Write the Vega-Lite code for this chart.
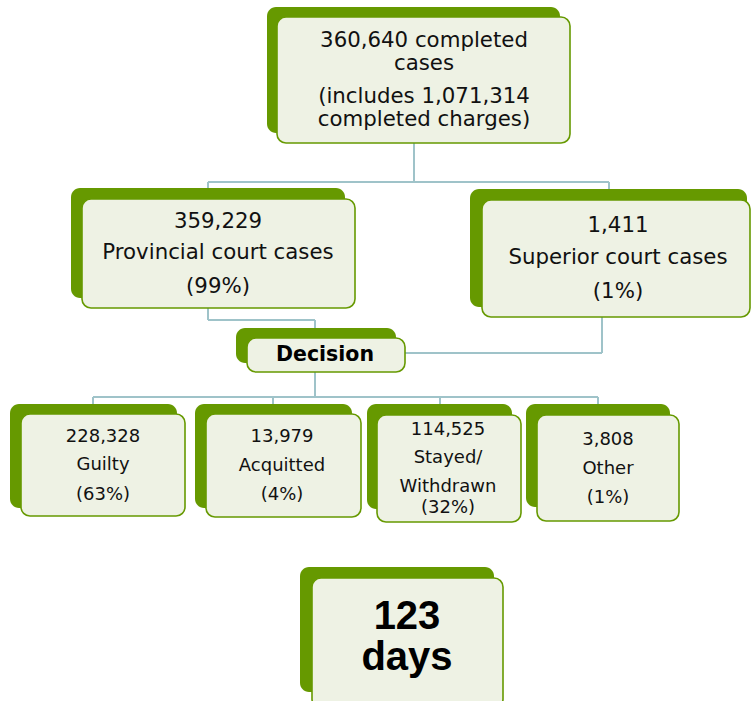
{
  "$schema": "https://vega.github.io/schema/vega-lite/v6.json",
  "width": 751,
  "height": 701,
  "padding": 0,
  "autosize": {"type": "fit", "contains": "padding"},
  "background": "white",
  "config": {"view": {"stroke": null}},
  "datasets": {
    "boxes": [
      {"box": "top", "layer": "back", "x": 267, "y": 7, "x2": 560, "y2": 133},
      {"box": "prov", "layer": "back", "x": 71, "y": 188, "x2": 345, "y2": 298},
      {"box": "sup", "layer": "back", "x": 470, "y": 189, "x2": 747, "y2": 307},
      {"box": "dec", "layer": "back", "x": 236, "y": 328, "x2": 396, "y2": 363},
      {"box": "guilty", "layer": "back", "x": 10, "y": 404, "x2": 177, "y2": 508},
      {"box": "acq", "layer": "back", "x": 195, "y": 404, "x2": 352, "y2": 508},
      {"box": "stay", "layer": "back", "x": 367, "y": 404, "x2": 512, "y2": 509},
      {"box": "other", "layer": "back", "x": 526, "y": 404, "x2": 670, "y2": 507},
      {"box": "days", "layer": "back", "x": 300, "y": 567, "x2": 494, "y2": 692},
      {"box": "top", "layer": "front", "x": 277, "y": 17, "x2": 570, "y2": 143},
      {"box": "prov", "layer": "front", "x": 82, "y": 199, "x2": 355, "y2": 308},
      {"box": "sup", "layer": "front", "x": 482, "y": 200, "x2": 750, "y2": 317},
      {"box": "dec", "layer": "front", "x": 247, "y": 338, "x2": 405, "y2": 372},
      {"box": "guilty", "layer": "front", "x": 21, "y": 414, "x2": 185, "y2": 516},
      {"box": "acq", "layer": "front", "x": 206, "y": 414, "x2": 361, "y2": 517},
      {"box": "stay", "layer": "front", "x": 377, "y": 415, "x2": 521, "y2": 522},
      {"box": "other", "layer": "front", "x": 537, "y": 415, "x2": 679, "y2": 521},
      {"box": "days", "layer": "front", "x": 312, "y": 578, "x2": 503, "y2": 708}
    ],
    "links": [
      {"x": 414, "y": 143, "x2": 414, "y2": 182},
      {"x": 208, "y": 182, "x2": 609, "y2": 182},
      {"x": 208, "y": 182, "x2": 208, "y2": 199},
      {"x": 609, "y": 182, "x2": 609, "y2": 200},
      {"x": 208, "y": 308, "x2": 208, "y2": 320},
      {"x": 208, "y": 320, "x2": 315, "y2": 320},
      {"x": 315, "y": 320, "x2": 315, "y2": 338},
      {"x": 405, "y": 353, "x2": 602, "y2": 353},
      {"x": 602, "y": 353, "x2": 602, "y2": 317},
      {"x": 315, "y": 372, "x2": 315, "y2": 397},
      {"x": 93, "y": 397, "x2": 598, "y2": 397},
      {"x": 93, "y": 397, "x2": 93, "y2": 414},
      {"x": 273, "y": 397, "x2": 273, "y2": 414},
      {"x": 440, "y": 397, "x2": 440, "y2": 415},
      {"x": 598, "y": 397, "x2": 598, "y2": 415}
    ],
    "labels": [
      {"level": "main", "x": 424, "y": 41, "text": "360,640 completed"},
      {"level": "main", "x": 424, "y": 64, "text": "cases"},
      {"level": "main", "x": 424, "y": 97, "text": "(includes 1,071,314"},
      {"level": "main", "x": 424, "y": 120, "text": "completed charges)"},
      {"level": "main", "x": 218, "y": 222, "text": "359,229"},
      {"level": "main", "x": 218, "y": 253, "text": "Provincial court cases"},
      {"level": "main", "x": 218, "y": 287, "text": "(99%)"},
      {"level": "main", "x": 618, "y": 226, "text": "1,411"},
      {"level": "main", "x": 618, "y": 258, "text": "Superior court cases"},
      {"level": "main", "x": 618, "y": 292, "text": "(1%)"},
      {"level": "head", "x": 325, "y": 355, "text": "Decision"},
      {"level": "sub", "x": 103, "y": 437, "text": "228,328"},
      {"level": "sub", "x": 103, "y": 465, "text": "Guilty"},
      {"level": "sub", "x": 103, "y": 495, "text": "(63%)"},
      {"level": "sub", "x": 282, "y": 437, "text": "13,979"},
      {"level": "sub", "x": 282, "y": 466, "text": "Acquitted"},
      {"level": "sub", "x": 282, "y": 495, "text": "(4%)"},
      {"level": "sub", "x": 448, "y": 430, "text": "114,525"},
      {"level": "sub", "x": 448, "y": 458, "text": "Stayed/"},
      {"level": "sub", "x": 448, "y": 487, "text": "Withdrawn"},
      {"level": "sub", "x": 448, "y": 508, "text": "(32%)"},
      {"level": "sub", "x": 608, "y": 440, "text": "3,808"},
      {"level": "sub", "x": 608, "y": 469, "text": "Other"},
      {"level": "sub", "x": 608, "y": 498, "text": "(1%)"},
      {"level": "big", "x": 407, "y": 617, "text": "123"},
      {"level": "big", "x": 407, "y": 658, "text": "days"}
    ]
  },
  "encoding": {
    "x": {"field": "x", "type": "quantitative", "scale": {"domain": [0, 751], "nice": false, "zero": false}, "axis": null},
    "y": {"field": "y", "type": "quantitative", "scale": {"domain": [0, 701], "nice": false, "zero": false, "reverse": true}, "axis": null}
  },
  "layer": [
    {
      "data": {"name": "links"},
      "mark": {"type": "rule", "color": "#9fc3c9", "strokeWidth": 2, "clip": true},
      "encoding": {"x2": {"field": "x2"}, "y2": {"field": "y2"}}
    },
    {
      "data": {"name": "boxes"},
      "transform": [{"filter": "datum.layer === 'back'"}],
      "mark": {"type": "rect", "fill": "#669900", "cornerRadius": 9, "clip": true},
      "encoding": {"x2": {"field": "x2"}, "y2": {"field": "y2"}}
    },
    {
      "data": {"name": "boxes"},
      "transform": [{"filter": "datum.layer === 'front'"}],
      "mark": {"type": "rect", "fill": "#eef2e4", "stroke": "#669900", "strokeWidth": 1.6, "cornerRadius": 9, "clip": true},
      "encoding": {"x2": {"field": "x2"}, "y2": {"field": "y2"}}
    },
    {
      "data": {"name": "labels"},
      "transform": [{"filter": "datum.level === 'main'"}],
      "mark": {"type": "text", "font": "DejaVu Sans", "fontSize": 21.3, "color": "#111111", "align": "center", "baseline": "middle"},
      "encoding": {"text": {"field": "text"}}
    },
    {
      "data": {"name": "labels"},
      "transform": [{"filter": "datum.level === 'sub'"}],
      "mark": {"type": "text", "font": "DejaVu Sans", "fontSize": 18, "color": "#111111", "align": "center", "baseline": "middle"},
      "encoding": {"text": {"field": "text"}}
    },
    {
      "data": {"name": "labels"},
      "transform": [{"filter": "datum.level === 'head'"}],
      "mark": {"type": "text", "font": "DejaVu Sans", "fontWeight": "bold", "fontSize": 20.5, "color": "#000000", "align": "center", "baseline": "middle"},
      "encoding": {"text": {"field": "text"}}
    },
    {
      "data": {"name": "labels"},
      "transform": [{"filter": "datum.level === 'big'"}],
      "mark": {"type": "text", "font": "Liberation Sans", "fontWeight": "bold", "fontSize": 40, "color": "#000000", "align": "center", "baseline": "middle"},
      "encoding": {"text": {"field": "text"}}
    }
  ]
}
